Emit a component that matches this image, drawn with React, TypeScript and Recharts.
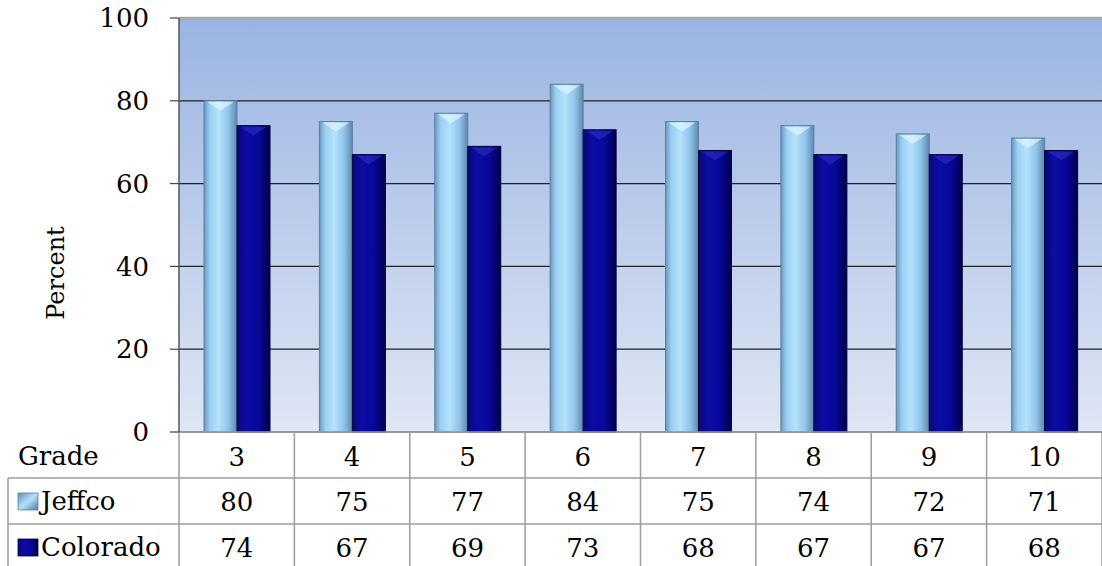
import React from 'react';
import { BarChart, Bar, XAxis, YAxis, CartesianGrid, ReferenceLine } from 'recharts';

const grades = ['3', '4', '5', '6', '7', '8', '9', '10'];
const jeffco = [80, 75, 77, 84, 75, 74, 72, 71];
const colorado = [74, 67, 69, 73, 68, 67, 67, 68];
const yTicks = [0, 20, 40, 60, 80, 100];
const seriesNames = ['Jeffco', 'Colorado'];
const rowTitle = 'Grade';
const yTitle = 'Percent';

const data = grades.map((g, i) => ({ grade: g, jeffco: jeffco[i], colorado: colorado[i] }));

const FONT = '"DejaVu Serif", "Liberation Serif", serif';
const ROW = 46;
const LINE = '#9c9c9c';
const FS = 26;

const makeBar = (fillId: string, stroke: string, cap: string, capOpacity: number) => (props: any) => {
  const { x, y, width, height } = props;
  if (!height || height <= 0) return null;
  return (
    <g>
      <rect x={x} y={y} width={width} height={height} fill={`url(#${fillId})`} stroke={stroke} strokeWidth={1} />
      <path
        d={`M${x + 3},${y + 1} L${x + width - 3},${y + 1} L${x + width / 2},${y + 10} Z`}
        fill={cap}
        opacity={capOpacity}
      />
    </g>
  );
};

const JeffcoBar = makeBar('jeffcoGrad', '#5a7f9f', '#dff7ff', 0.7);
const ColoradoBar = makeBar('coloradoGrad', '#00003a', '#3a3ad0', 0.45);

const TableTick = (props: any) => {
  const { x, y, payload, index } = props;
  const half = payload && payload.offset ? payload.offset : 57.7;
  const d = data[index];
  const t = { textAnchor: 'middle' as const, dominantBaseline: 'central' as const, fontFamily: FONT, fontSize: FS, fill: '#000' };
  return (
    <g>
      <line x1={x + half} y1={y} x2={x + half} y2={y + ROW * 3} stroke={LINE} strokeWidth={1.5} />
      <text x={x} y={y + ROW * 0.5 + 2} {...t}>{payload.value}</text>
      <text x={x} y={y + ROW * 1.5 + 1} {...t}>{d ? d.jeffco : ''}</text>
      <text x={x} y={y + ROW * 2.5 + 1} {...t}>{d ? d.colorado : ''}</text>
    </g>
  );
};

const TableFrame = (props: any) => {
  const vb = props.viewBox || {};
  const { x, y, width } = vb;
  if (x === undefined) return null;
  const left = 8;
  const t = { dominantBaseline: 'central' as const, fontFamily: FONT, fontSize: FS, fill: '#000' };
  return (
    <g>
      <line x1={left} y1={y + ROW} x2={x + width} y2={y + ROW} stroke={LINE} strokeWidth={1.5} />
      <line x1={left} y1={y + ROW * 2} x2={x + width} y2={y + ROW * 2} stroke={LINE} strokeWidth={1.5} />
      <line x1={left} y1={y + ROW} x2={left} y2={y + ROW * 3} stroke={LINE} strokeWidth={1.5} />
      <line x1={x} y1={y} x2={x} y2={y + ROW * 3} stroke={LINE} strokeWidth={1.5} />
      <text x={left + 10} y={y + ROW * 0.5 + 1} {...t}>{rowTitle}</text>
      <rect x={left + 10} y={y + ROW * 1.5 - 8} width={20} height={17} fill="url(#jeffcoIcon)" stroke="#5a7f9f" strokeWidth={0.8} />
      <text x={left + 33} y={y + ROW * 1.5} {...t}>{seriesNames[0]}</text>
      <rect x={left + 10} y={y + ROW * 2.5 - 8} width={20} height={17} fill="url(#coloradoGrad)" stroke="#00003a" strokeWidth={0.8} />
      <text x={left + 33} y={y + ROW * 2.5} {...t}>{seriesNames[1]}</text>
    </g>
  );
};

const YTitle = (props: any) => {
  const vb = props.viewBox || {};
  const cx = (vb.x || 0) + 56;
  const cy = (vb.y || 0) + (vb.height || 0) / 2 + 48;
  return (
    <text
      x={cx}
      y={cy}
      transform={`rotate(-90 ${cx} ${cy})`}
      textAnchor="middle"
      dominantBaseline="central"
      fontFamily={FONT}
      fontSize={24}
      fill="#000"
    >
      {yTitle}
    </text>
  );
};

export default function App() {
  return (
    <div style={{ position: 'absolute', left: 0, top: 0, width: 1102, height: 566, background: '#fff', overflow: 'hidden' }}>
      <BarChart
        width={1102}
        height={566}
        data={data}
        margin={{ top: 18, right: 0, bottom: 0, left: 0 }}
        barGap={0}
        barSize={33}
      >
        <defs>
          <linearGradient id="plotBg" x1="0" y1="0" x2="0" y2="1">
            <stop offset="0%" stopColor="#9ab4e2" />
            <stop offset="100%" stopColor="#dfe6f4" />
          </linearGradient>
          <linearGradient id="jeffcoGrad" x1="0" y1="0" x2="1" y2="0">
            <stop offset="0%" stopColor="#6a98c0" />
            <stop offset="18%" stopColor="#9ccff2" />
            <stop offset="45%" stopColor="#b4e2fc" />
            <stop offset="75%" stopColor="#8fc3ea" />
            <stop offset="100%" stopColor="#5e88ad" />
          </linearGradient>
          <linearGradient id="coloradoGrad" x1="0" y1="0" x2="1" y2="0">
            <stop offset="0%" stopColor="#08087a" />
            <stop offset="30%" stopColor="#0c0ca6" />
            <stop offset="65%" stopColor="#08089a" />
            <stop offset="100%" stopColor="#00004c" />
          </linearGradient>
          <linearGradient id="jeffcoIcon" x1="0" y1="0" x2="1" y2="1">
            <stop offset="0%" stopColor="#5f8fb8" />
            <stop offset="50%" stopColor="#b4e2fc" />
            <stop offset="100%" stopColor="#4e7ba3" />
          </linearGradient>
        </defs>
        <CartesianGrid
          horizontal={true}
          vertical={false}
          fill="url(#plotBg)"
          fillOpacity={1}
          stroke="#222"
          strokeWidth={1.2}
        />
        <XAxis
          dataKey="grade"
          height={134}
          tickLine={false}
          tickSize={0}
          tickMargin={0}
          axisLine={{ stroke: LINE, strokeWidth: 1.5 }}
          tick={<TableTick />}
          interval={0}
          label={<TableFrame />}
        />
        <YAxis
          width={179}
          domain={[0, 100]}
          ticks={yTicks}
          interval={0}
          tickSize={9}
          tickMargin={21}
          axisLine={{ stroke: '#555', strokeWidth: 1.5 }}
          tickLine={{ stroke: '#444', strokeWidth: 1.2 }}
          tick={{ fill: '#000', fontSize: FS, fontFamily: FONT }}
          label={<YTitle />}
        />
        <ReferenceLine y={100} stroke="#a8a8a8" strokeWidth={2.5} />
        <Bar dataKey="jeffco" name={seriesNames[0]} isAnimationActive={false} shape={JeffcoBar} />
        <Bar dataKey="colorado" name={seriesNames[1]} isAnimationActive={false} shape={ColoradoBar} />
      </BarChart>
    </div>
  );
}
